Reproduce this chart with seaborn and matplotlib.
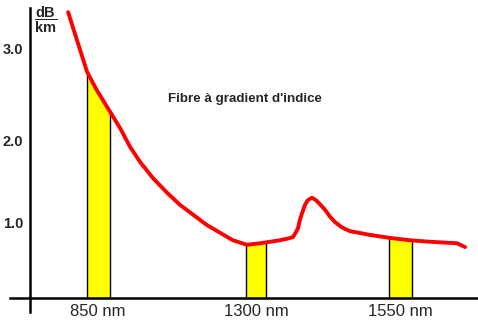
import numpy as np
import matplotlib
matplotlib.use("Agg")
import matplotlib.pyplot as plt
import seaborn as sns

# Attenuation of a graded-index fibre versus wavelength
wavelength_nm = [765, 784, 799, 819, 847, 884, 913, 941, 970, 1007, 1047, 1084,
                 1121, 1160, 1197, 1234, 1274, 1307, 1342, 1354, 1364, 1369,
                 1373, 1376, 1380, 1385, 1390, 1397, 1404, 1411, 1420, 1428,
                 1437, 1449, 1463, 1498, 1533, 1567, 1602, 1649, 1663]
attenuation_db_km = [3.40, 3.17, 2.99, 2.75, 2.55, 2.32, 2.14, 1.93, 1.74, 1.54,
                     1.36, 1.21, 1.09, 0.96, 0.86, 0.76, 0.70, 0.72, 0.76, 0.78,
                     0.80, 0.86, 0.92, 1.02, 1.11, 1.21, 1.27, 1.30, 1.27, 1.22,
                     1.15, 1.07, 1.00, 0.93, 0.88, 0.83, 0.79, 0.76, 0.74, 0.72,
                     0.67]

# Transmission windows (nm)
window_labels = ["850 nm", "1300 nm", "1550 nm"]
window_centres = [850, 1300, 1550]
window_edges = [(819, 884), (1271, 1317), (1531, 1571)]

y_ticks = [1.0, 2.0, 3.0]
y_tick_labels = ["1.0", "2.0", "3.0"]
unit_label = r"$\dfrac{\mathbf{dB}}{\mathbf{km}}$"
title_text = "Fibre à gradient d'indice"

# Hand-drawn axes: piecewise-linear scales anchored on the labelled ticks
X_KNOTS, X_POS = [850, 1300, 1550], [98, 256, 400]
Y_KNOTS, Y_POS = [0.0, 1.0, 2.0, 3.0], [0, 76, 157, 249]


def piecewise(v, xs, ys):
    v = np.asarray(v, dtype=float)
    out = np.interp(v, xs, ys)
    lo_slope = (ys[1] - ys[0]) / (xs[1] - xs[0])
    hi_slope = (ys[-1] - ys[-2]) / (xs[-1] - xs[-2])
    out = np.where(v < xs[0], ys[0] + (v - xs[0]) * lo_slope, out)
    out = np.where(v > xs[-1], ys[-1] + (v - xs[-1]) * hi_slope, out)
    return out


def x_fwd(v):
    return piecewise(v, X_KNOTS, X_POS)


def x_inv(p):
    return piecewise(p, X_POS, X_KNOTS)


def y_fwd(v):
    return piecewise(v, Y_KNOTS, Y_POS)


def y_inv(p):
    return piecewise(p, Y_POS, Y_KNOTS)


sns.set_style("white")
plt.rcParams["font.family"] = ["Liberation Sans", "DejaVu Sans"]
plt.rcParams["mathtext.fontset"] = "custom"
plt.rcParams["mathtext.bf"] = "Liberation Sans:bold"
plt.rcParams["mathtext.rm"] = "Liberation Sans"

W, H = 478, 328
fig = plt.figure(figsize=(W / 100, H / 100), dpi=100)
ax = fig.add_axes([0, 0, 1, 1])
ax.set_xscale("function", functions=(x_fwd, x_inv))
ax.set_yscale("function", functions=(y_fwd, y_inv))

base_px = 298  # pixel row of the zero line
ax.set_xlim(float(x_inv(0)), float(x_inv(W)))
ax.set_ylim(float(y_inv(-(H - base_px))), float(y_inv(base_px)))

# Shaded transmission windows under the curve
wl = np.array(wavelength_nm, dtype=float)
att = np.array(attenuation_db_km, dtype=float)
for lo, hi in window_edges:
    xs = np.linspace(lo, hi, 40)
    ys = np.interp(xs, wl, att)
    ax.fill_between(xs, 0, ys, color="#FFFF00", lw=0, zorder=1)
    ax.vlines([lo, hi], 0, np.interp([lo, hi], wl, att), color="black",
              lw=1.0, zorder=2)

sns.lineplot(x=wavelength_nm, y=attenuation_db_km, ax=ax, color="#FF0000",
             lw=2.8, sort=False, estimator=None, zorder=3)

# Axes drawn as crossing lines
for s in ["top", "right"]:
    ax.spines[s].set_visible(False)
ax.spines["left"].set_position(("data", float(x_inv(30))))
ax.spines["bottom"].set_position(("data", 0.0))
ax.spines["left"].set_bounds(float(y_inv(-(312 - base_px))), float(y_inv(base_px - 8)))
ax.spines["bottom"].set_bounds(float(x_inv(10)), float(x_inv(W)))
for s in ["left", "bottom"]:
    ax.spines[s].set_color("black")
    ax.spines[s].set_linewidth(1.8)
    ax.spines[s].set_zorder(4)

ax.set_yticks(y_ticks, y_tick_labels)
ax.set_xticks(window_centres, window_labels)
ax.minorticks_off()
ax.tick_params(axis="y", length=0, pad=5, labelsize=10.5)
ax.tick_params(axis="x", length=0, pad=4, labelsize=12)
for t in ax.get_yticklabels():
    t.set_fontweight("bold")

# Unit label dB / km as a stacked fraction
fig.text(46 / W, 1 - 20 / H, unit_label, ha="center", va="center",
         fontsize=10.5)

fig.text(245 / W, 1 - 99 / H, title_text, ha="center", va="center",
         fontsize=9.6, fontweight="bold")

fig.savefig("out.png", dpi=100)
